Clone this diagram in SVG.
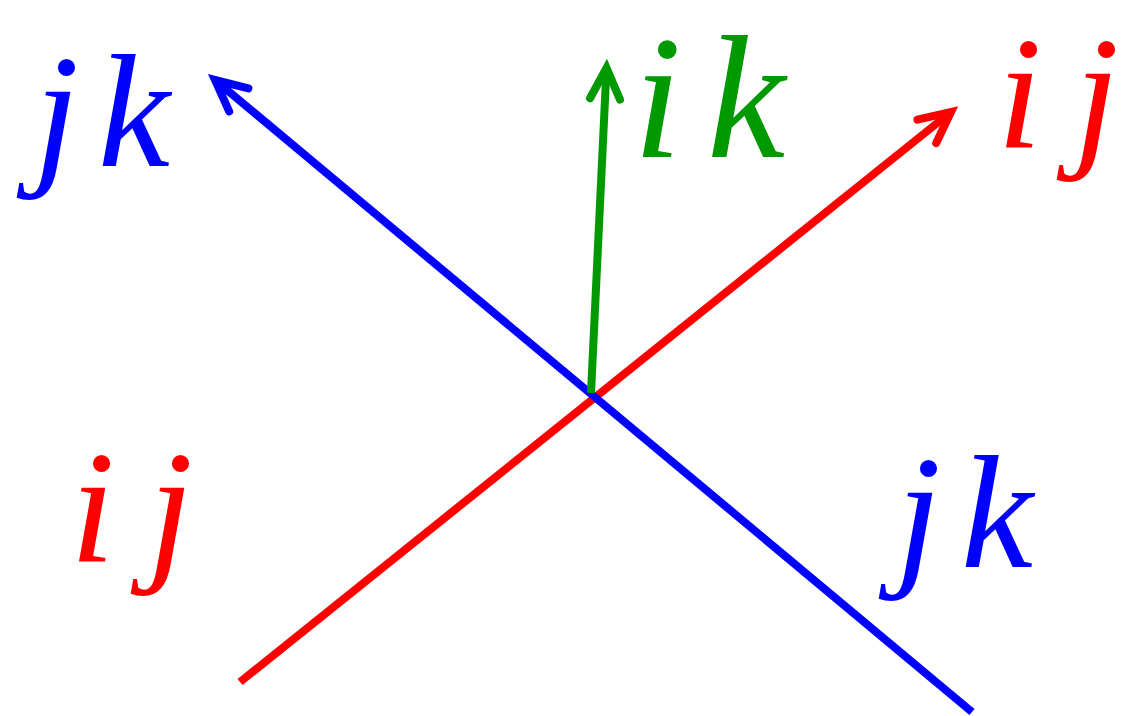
<svg xmlns="http://www.w3.org/2000/svg" width="1122" height="716" viewBox="0 0 1122 716">
  <style>
    .lbl { font-family: "Liberation Serif", "Times New Roman", serif; font-style: italic; font-size: 162px; }
    .big { font-size: 176px; }
    .ln { fill: none; stroke-width: 8; stroke-linecap: butt; }
    .head { fill: none; stroke-width: 8; stroke-linecap: round; stroke-linejoin: miter; }
  </style>
  <defs>
    <marker id="arrRed" markerUnits="userSpaceOnUse" orient="auto" refX="0" refY="0" markerWidth="60" markerHeight="60" viewBox="-40 -25 60 50" overflow="visible">
      <path class="head" stroke="#ff0000" d="M-31,-15 L0,0 L-31,15"/>
    </marker>
    <marker id="arrBlue" markerUnits="userSpaceOnUse" orient="auto" refX="0" refY="0" markerWidth="60" markerHeight="60" viewBox="-40 -25 60 50" overflow="visible">
      <path class="head" stroke="#0000ff" d="M-31,-15 L0,0 L-31,15"/>
    </marker>
    <marker id="arrGreen" markerUnits="userSpaceOnUse" orient="auto" refX="0" refY="0" markerWidth="60" markerHeight="60" viewBox="-40 -25 60 50" overflow="visible">
      <path class="head" stroke="#009900" d="M-31,-15 L0,0 L-31,15"/>
    </marker>
  </defs>
  <g id="connectors">
    <line id="edge-ij" class="ln" stroke="#ff0000" x1="240" y1="682" x2="951" y2="112" marker-end="url(#arrRed)"/>
    <line id="edge-jk" class="ln" stroke="#0000ff" x1="972" y1="712" x2="215" y2="80" marker-end="url(#arrBlue)"/>
    <line id="edge-ik" class="ln" stroke="#009900" x1="591" y1="393" x2="606.5" y2="68" marker-end="url(#arrGreen)"/>
  </g>
  <g id="label-jk-top" fill="#0000ff">
    <text class="lbl" x="34" y="166">j</text>
    <text class="lbl" x="98" y="166">k</text>
  </g>
  <g id="label-ik" fill="#009900">
    <text class="lbl big" x="633" y="157">i</text>
    <text class="lbl big" x="707" y="157">k</text>
  </g>
  <g id="label-ij-top" fill="#ff0000">
    <text class="lbl" x="997" y="148">i</text>
    <text class="lbl" x="1074" y="148">j</text>
  </g>
  <g id="label-ij-bottom" fill="#ff0000">
    <text class="lbl" x="70" y="562">i</text>
    <text class="lbl" x="148" y="562">j</text>
  </g>
  <g id="label-jk-bottom" fill="#0000ff">
    <text class="lbl" x="896" y="567">j</text>
    <text class="lbl" x="961" y="567">k</text>
  </g>
</svg>
